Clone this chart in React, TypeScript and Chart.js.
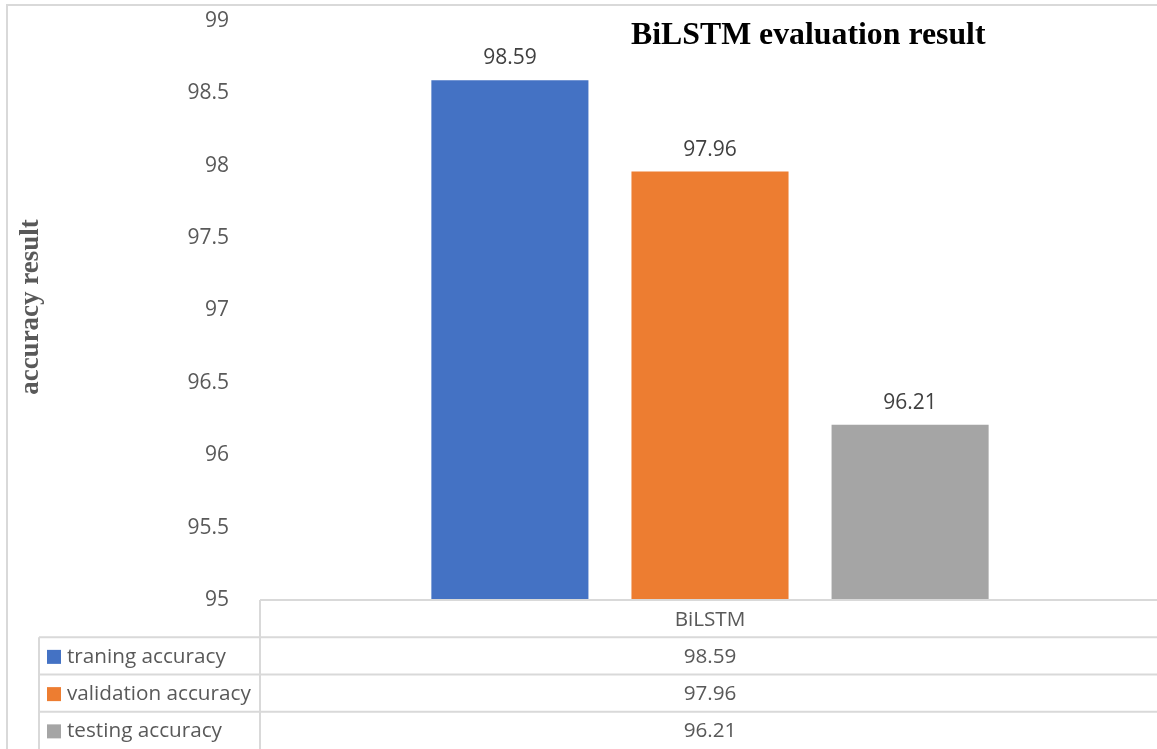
import React, { useEffect, useRef } from "react";
import { Chart, registerables } from "chart.js";

Chart.register(...registerables);

const categories = ["BiLSTM"];
const seriesNames = ["traning accuracy", "validation accuracy", "testing accuracy"];
const seriesValues = [98.59, 97.96, 96.21];
const seriesColors = ["#4472C4", "#ED7D31", "#A5A5A5"];
const yMin = 95;
const yMax = 99;
const yStep = 0.5;
const chartTitle = "BiLSTM evaluation result";
const yAxisTitle = "accuracy result";

const SANS = "'Open Sans', 'Noto Sans', sans-serif";
const SERIF = "'Liberation Serif', 'DejaVu Serif', serif";
const LINE = "#D9D9D9";
const TEXT = "#595959";

const decorPlugin = {
  id: "decor",
  afterDraw(chart: any) {
    const ctx = chart.ctx as CanvasRenderingContext2D;
    const area = chart.chartArea;
    const W = chart.width;
    const H = chart.height;
    ctx.save();

    // outer frame (left and top edges)
    ctx.strokeStyle = LINE;
    ctx.lineWidth = 2;
    ctx.beginPath();
    ctx.moveTo(7, H);
    ctx.lineTo(7, 5);
    ctx.lineTo(W, 5);
    ctx.stroke();

    // chart title
    ctx.fillStyle = "#000000";
    ctx.font = `bold 31.8px ${SERIF}`;
    ctx.textAlign = "left";
    ctx.textBaseline = "alphabetic";
    ctx.fillText(chartTitle, 631, 44);

    // y axis title
    ctx.save();
    ctx.translate(38, 307);
    ctx.rotate(-Math.PI / 2);
    ctx.fillStyle = TEXT;
    ctx.font = `bold 27px ${SERIF}`;
    ctx.textAlign = "center";
    ctx.fillText(yAxisTitle, 0, 0);
    ctx.restore();

    // value labels above the bars
    ctx.font = `21px ${SANS}`;
    ctx.fillStyle = "#404040";
    ctx.textAlign = "center";
    ctx.textBaseline = "alphabetic";
    chart.data.datasets.forEach((ds: any, i: number) => {
      const meta = chart.getDatasetMeta(i);
      meta.data.forEach((bar: any, j: number) => {
        ctx.fillText(String(ds.data[j]), bar.x, bar.y - 16);
      });
    });

    // data table under the plot
    const top = area.bottom;
    const rowH = (H - top) / (seriesNames.length + 1);
    const leftCol = 39;
    const xMid = (area.left + area.right) / 2;
    ctx.strokeStyle = LINE;
    ctx.lineWidth = 2;
    ctx.beginPath();
    ctx.moveTo(area.left, top);
    ctx.lineTo(W, top);
    ctx.moveTo(area.left, top);
    ctx.lineTo(area.left, H);
    for (let r = 1; r <= seriesNames.length; r++) {
      const y = top + r * rowH;
      ctx.moveTo(leftCol, y);
      ctx.lineTo(W, y);
    }
    ctx.moveTo(leftCol, top + rowH);
    ctx.lineTo(leftCol, H);
    ctx.stroke();

    ctx.font = `20.7px ${SANS}`;
    ctx.fillStyle = TEXT;
    ctx.textBaseline = "middle";
    ctx.textAlign = "center";
    categories.forEach((c) => ctx.fillText(c, xMid, top + rowH / 2 + 1));
    seriesNames.forEach((name, i) => {
      const cy = top + (i + 1) * rowH + rowH / 2 + 1;
      ctx.fillStyle = seriesColors[i];
      ctx.fillRect(47, cy - 7, 14, 14);
      ctx.fillStyle = TEXT;
      ctx.textAlign = "left";
      ctx.fillText(name, 67, cy);
      ctx.textAlign = "center";
      ctx.fillText(String(seriesValues[i]), xMid, cy);
    });

    ctx.restore();
  },
};

export default function App() {
  const canvasRef = useRef<HTMLCanvasElement | null>(null);

  useEffect(() => {
    const canvas = canvasRef.current;
    if (!canvas) return;
    const chart = new Chart(canvas, {
      type: "bar",
      data: {
        labels: categories,
        datasets: seriesNames.map((name, i) => ({
          label: name,
          data: [seriesValues[i]],
          backgroundColor: seriesColors[i],
          borderWidth: 0,
          categoryPercentage: 0.667,
          barPercentage: 0.785,
        })),
      },
      options: {
        animation: false,
        responsive: false,
        devicePixelRatio: 1,
        layout: { padding: { top: 21, bottom: 149, left: 0, right: 0 } },
        plugins: {
          legend: { display: false },
          tooltip: { enabled: false },
          title: { display: false },
        },
        scales: {
          x: { display: false },
          y: {
            min: yMin,
            max: yMax,
            ticks: {
              stepSize: yStep,
              color: TEXT,
              padding: 23,
              font: { family: SANS, size: 21 },
              callback: (v: any) => String(Number(v)),
            },
            grid: { display: false },
            border: { display: false },
            afterFit: (scale: any) => {
              scale.width = 260;
              scale.paddingTop = 0;
              scale.paddingBottom = 0;
            },
          },
        },
      },
      plugins: [decorPlugin],
    });
    return () => chart.destroy();
  }, []);

  return (
    <div
      style={{
        position: "fixed",
        left: 0,
        top: 0,
        width: 1157,
        height: 749,
        overflow: "hidden",
        background: "#ffffff",
      }}
    >
      <canvas ref={canvasRef} width={1160} height={749} style={{ display: "block" }} />
    </div>
  );
}
